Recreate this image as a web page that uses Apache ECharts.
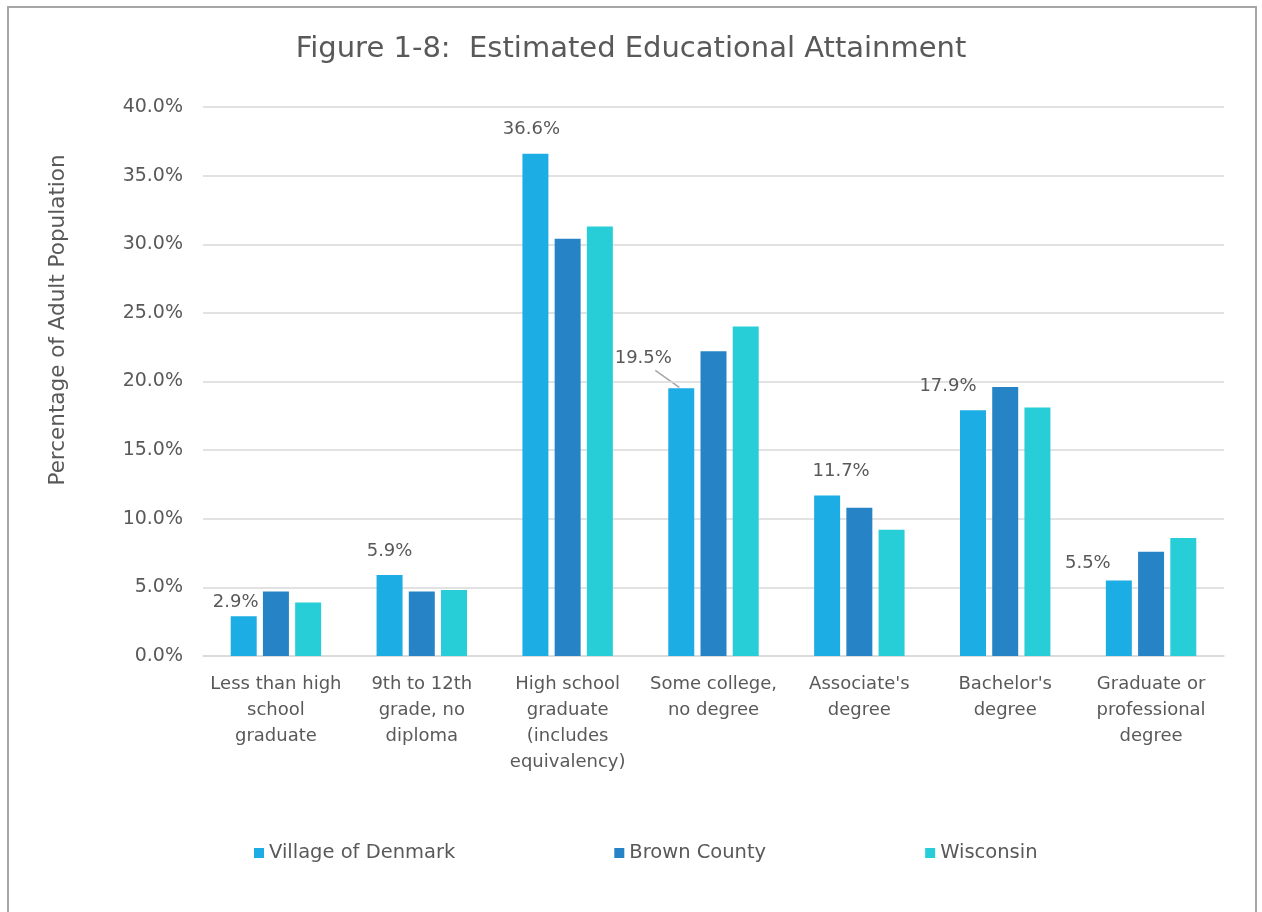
<!DOCTYPE html>
<html>
<head>
<meta charset="utf-8">
<script src="https://cdn.jsdelivr.net/npm/echarts@6/dist/echarts.min.js"></script>
<style>
html,body{margin:0;padding:0;background:#fff;}
#chart{width:1262px;height:912px;}
</style>
</head>
<body>
<div id="chart"></div>
<script>
const categories = [
  "Less than high\nschool\ngraduate",
  "9th to 12th\ngrade, no\ndiploma",
  "High school\ngraduate\n(includes\nequivalency)",
  "Some college,\nno degree",
  "Associate's\ndegree",
  "Bachelor's\ndegree",
  "Graduate or\nprofessional\ndegree"
];
const seriesNames = ["Village of Denmark", "Brown County", "Wisconsin"];
const denmark = [2.9, 5.9, 36.6, 19.5, 11.7, 17.9, 5.5];
const brown = [4.7, 4.7, 30.4, 22.2, 10.8, 19.6, 7.6];
const wisconsin = [3.9, 4.8, 31.3, 24.0, 9.2, 18.1, 8.6];
const yTicks = {min: 0, max: 40, interval: 5};

const colors = ["#1CADE4", "#2683C6", "#27CED7"];
const textColor = "#595959";
const font = "'DejaVu Sans', sans-serif";
// label nudges (style only)
const labelShift = [[-8, 0], [0, -10], [-4, -10], [-38, -16], [14, -10], [-25, -10], [-31, -3]];
const leaderIndex = 3;

const chart = echarts.init(document.getElementById('chart'), null, {renderer: 'canvas'});
const series = [denmark, brown, wisconsin].map((d, i) => ({
  name: seriesNames[i],
  type: 'bar',
  data: d,
  barGap: '24%',
  barCategoryGap: '38%',
  itemStyle: {color: colors[i]},
  label: i === 0 ? {
    show: true, position: 'top', distance: 5,
    formatter: p => p.value.toFixed(1) + '%',
    color: textColor, fontSize: 18, fontFamily: font
  } : {show: false},
  labelLayout: i === 0 ? (p => ({dx: labelShift[p.dataIndex][0], dy: labelShift[p.dataIndex][1]})) : undefined
}));

const baseGraphic = [{
  type: 'rect', shape: {x: 8, y: 7, width: 1248, height: 1000},
  style: {fill: 'none', stroke: '#a6a6a6', lineWidth: 2}, silent: true
}, {
  type: 'text', x: 58, y: 320, rotation: Math.PI / 2,
  style: {text: 'Percentage of Adult Population', fill: textColor, fontSize: 21.5, fontFamily: font,
    align: 'center', verticalAlign: 'middle'}, silent: true
}];

chart.setOption({
  animation: false,
  textStyle: {fontFamily: font},
  title: {
    text: "Figure 1-8:  Estimated Educational Attainment",
    left: 'center', top: 30,
    textStyle: {color: textColor, fontSize: 29, fontWeight: 'normal', fontFamily: font}
  },
  graphic: baseGraphic,
  legend: {
    data: seriesNames, bottom: 44, left: 249, itemGap: 159,
    itemWidth: 10, itemHeight: 10, icon: 'rect',
    textStyle: {color: textColor, fontSize: 19.5, fontFamily: font}
  },
  grid: {left: 203, right: 38, top: 107, bottom: 256, containLabel: false},
  xAxis: {
    type: 'category', data: categories,
    axisLine: {lineStyle: {color: '#d9d9d9', width: 1.5}},
    axisTick: {show: false},
    axisLabel: {color: textColor, fontSize: 18, lineHeight: 26, margin: 15, interval: 0, fontFamily: font}
  },
  yAxis: {
    type: 'value', min: yTicks.min, max: yTicks.max, interval: yTicks.interval,
    axisLabel: {formatter: v => v.toFixed(1) + '%', color: textColor, fontSize: 19, margin: 20, fontFamily: font},
    splitLine: {lineStyle: {color: '#d9d9d9', width: 1.5}},
    axisLine: {show: false}, axisTick: {show: false}
  },
  series: series
});

// leader line for the moved 19.5% label, anchored to the bar top via the chart's own scales
const barLayout = chart.getModel().getSeriesByIndex(0).getData().getItemLayout(leaderIndex);
const topX = barLayout.x + barLayout.width / 2;
const topY = barLayout.y + barLayout.height;
chart.setOption({
  graphic: baseGraphic.concat([{
    type: 'line', silent: true,
    shape: {x1: topX - 26, y1: Math.min(barLayout.y, topY) - 18, x2: topX - 2, y2: Math.min(barLayout.y, topY) - 1},
    style: {stroke: '#a6a6a6', lineWidth: 1.5}
  }])
});
</script>
</body>
</html>
